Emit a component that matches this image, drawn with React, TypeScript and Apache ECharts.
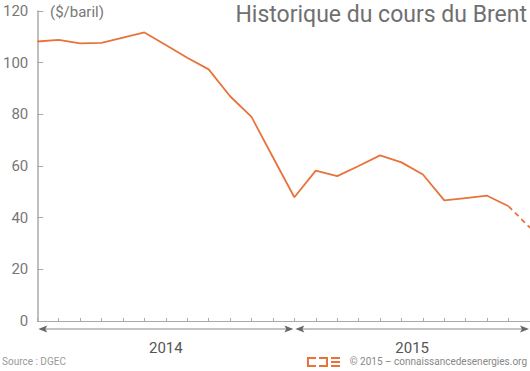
import React, { useEffect, useRef } from "react";
import * as echarts from "echarts";

const months = [
  "janv. 2014", "févr. 2014", "mars 2014", "avr. 2014", "mai 2014", "juin 2014",
  "juil. 2014", "août 2014", "sept. 2014", "oct. 2014", "nov. 2014", "déc. 2014",
  "janv. 2015", "févr. 2015", "mars 2015", "avr. 2015", "mai 2015", "juin 2015",
  "juil. 2015", "août 2015", "sept. 2015", "oct. 2015", "nov. 2015", "déc. 2015",
];
const brent = [
  108.2, 108.8, 107.5, 107.7, 109.7, 111.7, 106.8, 101.9, 97.4, 87.0, 79.0, 63.4,
  47.9, 58.2, 56.1, 60.0, 64.1, 61.4, 56.7, 46.7, 47.6, 48.5, 44.4, 36.1,
];
const estimatedFrom = 22; // last segment is dashed (estimate)
const years = [
  { label: "2014", from: 0, to: 12 },
  { label: "2015", from: 12, to: 23 },
];
const yTicks = { min: 0, max: 120, interval: 20 };

const ORANGE = "#E8733A";
const GREY = "#777";

export default function App() {
  const ref = useRef<HTMLDivElement>(null);
  useEffect(() => {
    if (!ref.current) return;
    const chart = echarts.init(ref.current, undefined, { renderer: "svg" });
    const solid = brent.map((v, i) => (i <= estimatedFrom ? v : null));
    const dashed = brent.map((v, i) => (i >= estimatedFrom ? v : null));
    chart.setOption({
      animation: false,
      grid: { left: 35, right: 0, top: 11, bottom: 50 },
      xAxis: {
        type: "category",
        data: months,
        boundaryGap: false,
        axisLine: { lineStyle: { color: "#aaa", width: 1 } },
        axisTick: { inside: true, length: 3, interval: 0, lineStyle: { color: "#aaa" } },
        axisLabel: { show: false, interval: 0 },
        splitLine: { show: false },
      },
      yAxis: {
        type: "value",
        min: yTicks.min,
        max: yTicks.max,
        interval: yTicks.interval,
        axisLine: { show: true, lineStyle: { color: "#aaa", width: 1.5 } },
        axisTick: { show: true, inside: true, length: 6, lineStyle: { color: "#aaa" } },
        axisLabel: { color: GREY, fontSize: 15, fontFamily: "Roboto", margin: 9 },
        splitLine: { show: false },
      },
      series: [
        {
          type: "line",
          data: solid,
          symbol: "none",
          lineStyle: { color: ORANGE, width: 1.8 },
          connectNulls: false,
        },
        {
          type: "line",
          data: dashed,
          symbol: "none",
          lineStyle: { color: ORANGE, width: 1.8, type: [5, 4] },
        },
      ],
    });

    const y0 = chart.convertToPixel({ yAxisIndex: 0 }, 0) as number;
    const ay = y0 + 8;
    const graphics: any[] = [];
    years.forEach((yr) => {
      const xa = chart.convertToPixel({ xAxisIndex: 0 }, yr.from) as number;
      const xb = chart.convertToPixel({ xAxisIndex: 0 }, yr.to) as number;
      const x1 = xa + 1;
      const x2 = xb - 1;
      graphics.push({
        type: "line",
        shape: { x1: x1 + 4, y1: ay, x2: x2 - 4, y2: ay },
        style: { stroke: "#888", lineWidth: 1 },
      });
      graphics.push({
        type: "polygon",
        shape: { points: [[x1, ay], [x1 + 9, ay - 3.5], [x1 + 7, ay], [x1 + 9, ay + 3.5]] },
        style: { fill: "#666" },
      });
      graphics.push({
        type: "polygon",
        shape: { points: [[x2, ay], [x2 - 9, ay - 3.5], [x2 - 7, ay], [x2 - 9, ay + 3.5]] },
        style: { fill: "#666" },
      });
      graphics.push({
        type: "text",
        x: (xa + xb) / 2,
        y: ay + 19,
        style: {
          text: yr.label,
          fill: "#555",
          font: "15px Roboto",
          textAlign: "center",
          textVerticalAlign: "middle",
        },
      });
    });
    graphics.push(
      {
        type: "text",
        x: 527,
        y: 14,
        style: {
          text: "Historique du cours du Brent",
          fill: "#707070",
          font: "23px Roboto",
          textAlign: "right",
          textVerticalAlign: "middle",
        },
      },
      {
        type: "text",
        left: 50,
        top: 4,
        style: { text: "($/baril)", fill: GREY, font: "15px Roboto" },
      },
      {
        type: "text",
        left: 2,
        top: 356,
        style: { text: "Source : DGEC", fill: "#999", font: "10px Roboto" },
      },
      {
        type: "text",
        right: 3,
        top: 356,
        style: { text: "© 2015 – connaissancedesenergies.org", fill: "#888", font: "10px Roboto" },
      },
      {
        type: "polyline",
        shape: { points: [[316, 358], [308, 358], [308, 366], [316, 366]] },
        style: { stroke: ORANGE, lineWidth: 2, fill: null },
      },
      {
        type: "polyline",
        shape: { points: [[319, 358], [327, 358], [327, 366], [319, 366]] },
        style: { stroke: ORANGE, lineWidth: 2, fill: null },
      },
      { type: "rect", shape: { x: 331, y: 357, width: 9, height: 2 }, style: { fill: ORANGE } },
      { type: "rect", shape: { x: 331, y: 361, width: 9, height: 2 }, style: { fill: ORANGE } },
      { type: "rect", shape: { x: 331, y: 365, width: 9, height: 2 }, style: { fill: ORANGE } }
    );
    chart.setOption({ graphic: graphics });
    return () => chart.dispose();
  }, []);
  return <div ref={ref} style={{ width: 530, height: 371, position: "absolute", left: 0, top: 0 }} />;
}
